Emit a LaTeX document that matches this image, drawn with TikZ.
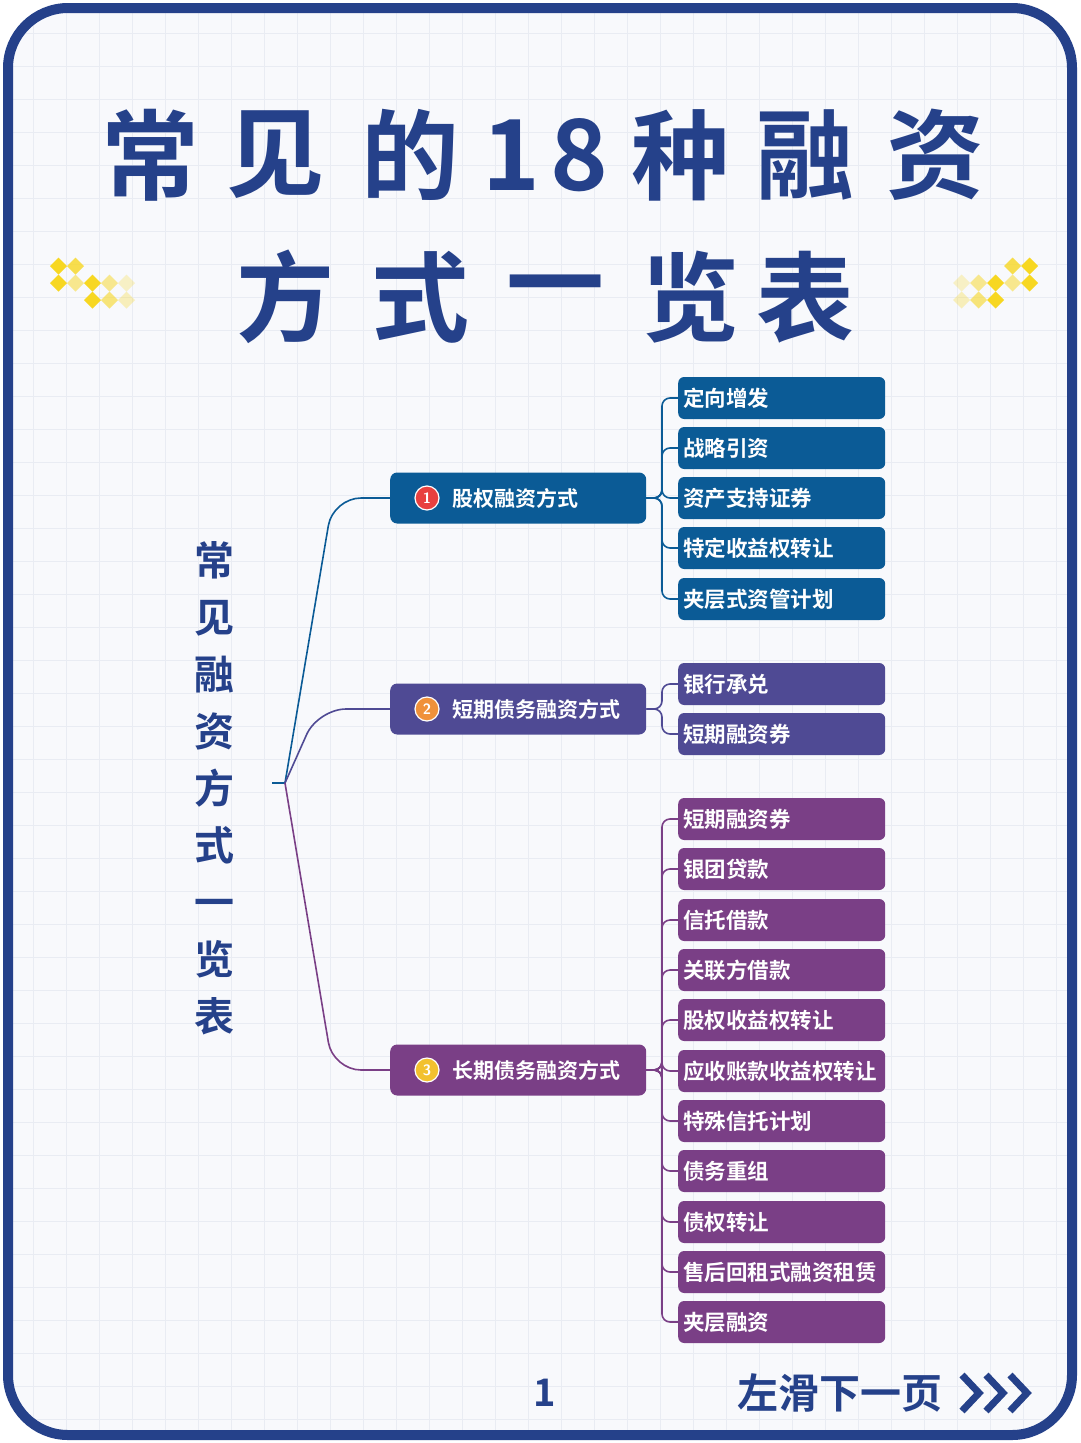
\documentclass[tikz,border=0pt]{standalone}
\usepackage{fontspec}
\newfontfamily\cjk{Noto Sans CJK SC}[BoldFont={Noto Sans CJK SC Bold}]
\definecolor{navy}{HTML}{25418A}
\definecolor{cA}{HTML}{0B5B96}
\definecolor{cB}{HTML}{4F4A94}
\definecolor{cC}{HTML}{7A3F86}
\definecolor{bg}{HTML}{F8F9FC}
\definecolor{gridc}{HTML}{E9ECF3}
\definecolor{ylw}{HTML}{F7D722}
\begin{document}
\begin{tikzpicture}[x=1pt,y=-1pt,
 leaf/.style={fill=#1,rounded corners=6pt,minimum width=207pt,minimum height=42pt,inner sep=0pt,text=white,font=\cjk\bfseries\fontsize{21.5}{23}\selectfont,anchor=west,align=left,text width=203pt},
 mainbox/.style={fill=#1,rounded corners=7pt,minimum width=256pt,minimum height=51pt,inner sep=0pt,anchor=west},
 link/.style={draw=#1,line width=1.6pt,rounded corners=8pt},
 num/.style={circle,fill=#1,draw=white,line width=1.2pt,minimum size=24pt,inner sep=0pt,text=white,font=\sffamily\bfseries\fontsize{15}{15}\selectfont}]
\useasboundingbox (0,0) rectangle (1080,1443);
\fill[white] (0,0) rectangle (1080,1443);
\fill[bg,rounded corners=60pt] (8,8) rectangle (1072,1435);
\begin{scope}
\clip[rounded corners=60pt] (8,8) rectangle (1072,1435);
\foreach \i in {0,...,33} {\draw[gridc,line width=0.6pt] (\i*33,0) -- (\i*33,1443);}
\foreach \i in {0,...,44} {\draw[gridc,line width=0.6pt] (0,\i*33) -- (1080,\i*33);}
\end{scope}
\draw[navy,line width=10pt,rounded corners=60pt] (8,8) rectangle (1072,1435);
% title
\foreach \c/\x in {常/150,见/275,的/410,种/680,融/805,资/935}
 \node[text=navy,font=\cjk\bfseries\fontsize{98}{98}\selectfont] (t\x) at (\x,155) {\c};
\node[text=navy,font=\cjk\bfseries\fontsize{98}{98}\selectfont] (t18) at (545,155) {1\kern10pt8};
\foreach \c/\x in {方/285,式/420,一/555,览/690,表/805}
 \node[text=navy,font=\cjk\bfseries\fontsize{98}{98}\selectfont] (u\x) at (\x,297) {\c};
% diamonds
\foreach \dx/\dy/\o in {0/0/1,1/0/0.8,0/1/1,1/1/0.5,2/1/1,3/1/0.5,2/2/1,3/2/0.6,4/2/0.3,4/1/0.25}{
 \fill[ylw,opacity=\o] (50+\dx*17,266+\dy*17) -- +(8.5,-8.5) -- +(17,0) -- +(8.5,8.5) -- cycle;
 \fill[ylw,opacity=\o] (1038-\dx*17,266+\dy*17) -- +(-8.5,-8.5) -- +(-17,0) -- +(-8.5,8.5) -- cycle;
}
% vertical label
\node[text=navy,font=\cjk\bfseries\fontsize{40}{57}\selectfont,align=center] (root) at (214,788) {常\\见\\融\\资\\方\\式\\一\\览\\表};
\coordinate (r) at (285,783);
\draw[link=cA] (272,783) -- (r);
% main nodes
\node[mainbox=cA] (m1) at (390,498) {};
\node[mainbox=cB] (m2) at (390,709) {};
\node[mainbox=cC] (m3) at (390,1070) {};
\foreach \m/\col/\t/\n in {m1/E8403F/股权融资方式/1,m2/F0913A/短期债务融资方式/2,m3/F2C12E/长期债务融资方式/3}{
 \definecolor{tmp}{HTML}{\col}
 \node[num=tmp] (\m n) at ([xshift=37pt]\m.west) {\n};
 \node[anchor=west,text=white,font=\cjk\bfseries\fontsize{21}{23}\selectfont] (\m t) at ([xshift=59pt]\m.west) {\t};
}
\draw[link=cA,rounded corners=28pt] (r) -- (333,498) -- (m1.west);
\draw[link=cB,rounded corners=28pt] (r) -- (318,709) -- (m2.west);
\draw[link=cC,rounded corners=28pt] (r) -- (333,1070) -- (m3.west);
% leaves
\foreach \t/\y [count=\i] in {定向增发/398,战略引资/448,资产支持证券/498,特定收益权转让/548,夹层式资管计划/599}{
 \node[leaf=cA] (a\i) at (678,\y) {\hspace*{3pt}\t};
 \draw[link=cA] (m1.east) -- (662,498) -- (662,\y) -- (a\i.west);}
\foreach \t/\y [count=\i] in {银行承兑/684,短期融资券/734}{
 \node[leaf=cB] (b\i) at (678,\y) {\hspace*{3pt}\t};
 \draw[link=cB] (m2.east) -- (662,709) -- (662,\y) -- (b\i.west);}
\foreach \t/\y [count=\i] in {短期融资券/819,银团贷款/869,信托借款/920,关联方借款/970,股权收益权转让/1020,应收账款收益权转让/1071,特殊信托计划/1121,债务重组/1171,债权转让/1222,售后回租式融资租赁/1272,夹层融资/1322}{
 \node[leaf=cC] (c\i) at (678,\y) {\hspace*{3pt}\t};
 \draw[link=cC] (m3.east) -- (662,1070) -- (662,\y) -- (c\i.west);}
% footer
\node[text=navy,font=\cjk\bfseries\fontsize{38}{38}\selectfont] (pg) at (545,1393) {1};
\node[text=navy,font=\cjk\bfseries\fontsize{41}{41}\selectfont] (nx) at (840,1393) {左滑下一页};
\foreach \x in {962,986,1010}
 \draw[navy,line width=7pt,line join=miter] (\x,1375) -- (\x+17,1393) -- (\x,1411);
\end{tikzpicture}
\end{document}
